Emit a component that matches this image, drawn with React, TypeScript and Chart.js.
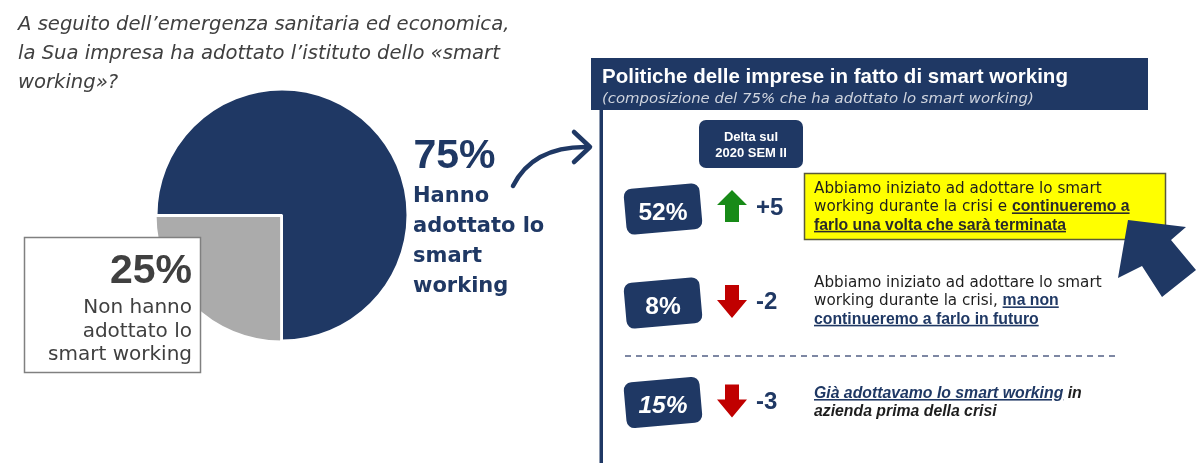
import React, { useEffect, useRef } from "react";
import { Chart, registerables } from "chart.js";

Chart.register(...registerables);

// ---------- data ----------
const pieLabels = ["Hanno adottato lo smart working", "Non hanno adottato lo smart working"];
const pieValues = [75, 25];

const questionLines = [
  "A seguito dell’emergenza sanitaria ed economica,",
  "la Sua impresa ha adottato l’istituto dello «smart",
  "working»?",
];
const adoptedLines = ["Hanno", "adottato lo", "smart", "working"];
const notAdoptedLines = ["Non hanno", "adottato lo", "smart working"];

const panelTitle = "Politiche delle imprese in fatto di smart working";
const panelSubtitle = "(composizione del 75% che ha adottato lo smart working)";
const deltaHeader = ["Delta sul", "2020 SEM II"];

const policyShares = [52, 8, 15];
const policyDeltas = [5, -2, -3];

type Run = { t: string; b?: boolean; u?: boolean; navy?: boolean };
const policyTexts: Run[][][] = [
  [
    [{ t: "Abbiamo iniziato ad adottare lo smart" }],
    [{ t: "working durante la crisi e " }, { t: "continueremo a", b: true, u: true }],
    [{ t: "farlo una volta che sarà terminata", b: true, u: true }],
  ],
  [
    [{ t: "Abbiamo iniziato ad adottare lo smart" }],
    [{ t: "working durante la crisi, " }, { t: "ma non", b: true, u: true, navy: true }],
    [{ t: "continueremo a farlo in futuro", b: true, u: true, navy: true }],
  ],
  [
    [{ t: "Già adottavamo lo smart working", b: true, u: true, navy: true }, { t: " in", b: true }],
    [{ t: "azienda prima della crisi", b: true }],
  ],
];

// ---------- styles ----------
const NAVY = "#1f3864";
const GRAY_SLICE = "#ababab";
const TEXT_GRAY = "#404040";
const REG = "'DejaVu Sans', sans-serif";
const ARIAL = "'Liberation Sans', Arial, sans-serif";

// layout (not data)
const rowCenters = [209, 303, 402.5];
const rowTextTop = [193, 287, 398];
const rowLine = 18.4;

function UpArrow({ x, y, color }: { x: number; y: number; color: string }) {
  // x,y: top-left of a 30x32 box
  const pts = [
    [x + 15, y],
    [x + 30, y + 15],
    [x + 22, y + 15],
    [x + 22, y + 32],
    [x + 8, y + 32],
    [x + 8, y + 15],
    [x, y + 15],
  ];
  return <polygon points={pts.map((p) => p.join(",")).join(" ")} fill={color} />;
}
function DownArrow({ x, y, color }: { x: number; y: number; color: string }) {
  const pts = [
    [x + 8, y],
    [x + 22, y],
    [x + 22, y + 15],
    [x + 30, y + 15],
    [x + 15, y + 33],
    [x, y + 15],
    [x + 8, y + 15],
  ];
  return <polygon points={pts.map((p) => p.join(",")).join(" ")} fill={color} />;
}

export default function App() {
  const canvasRef = useRef<HTMLCanvasElement>(null);

  useEffect(() => {
    const chart = new Chart(canvasRef.current!, {
      type: "pie",
      data: {
        labels: pieLabels,
        datasets: [
          {
            data: pieValues,
            backgroundColor: [NAVY, GRAY_SLICE],
            borderColor: "#ffffff",
            borderWidth: 2,
            offset: [0, 5],
          },
        ],
      },
      options: {
        responsive: false,
        animation: false,
        rotation: -90,
        events: [],
        layout: { padding: 0 },
        plugins: { legend: { display: false }, tooltip: { enabled: false } },
      },
    });
    return () => chart.destroy();
  }, []);

  return (
    <div
      style={{
        position: "absolute",
        left: 0,
        top: 0,
        width: 1200,
        height: 463,
        background: "#fff",
        overflow: "hidden",
      }}
    >
      <canvas
        ref={canvasRef}
        width={258}
        height={258}
        style={{ position: "absolute", left: 153, top: 86, width: 258, height: 258 }}
      />
      <svg
        width={1200}
        height={463}
        style={{ position: "absolute", left: 0, top: 0, whiteSpace: "pre" }}
      >
        {/* question */}
        <text fontFamily={REG} fontStyle="italic" fontSize={19.6} fill={TEXT_GRAY}>
          {questionLines.map((l, i) => (
            <tspan key={i} x={18} y={30 + 29 * i}>
              {l}
            </tspan>
          ))}
        </text>

        {/* 25% box */}
        <rect x={24.5} y={237.5} width={176} height={135} fill="#fff" stroke="#808080" strokeWidth={1.5} />
        <text x={192} y={283} textAnchor="end" fontFamily={ARIAL} fontWeight="bold" fontSize={41} fill={TEXT_GRAY}>
          {pieValues[1]}%
        </text>
        <text fontFamily={REG} fontSize={20} fill={TEXT_GRAY} textAnchor="end">
          {notAdoptedLines.map((l, i) => (
            <tspan key={i} x={192} y={313 + 23.5 * i}>
              {l}
            </tspan>
          ))}
        </text>

        {/* 75% label */}
        <text x={413.5} y={168} fontFamily={ARIAL} fontWeight="bold" fontSize={41} fill={NAVY}>
          {pieValues[0]}%
        </text>
        <text fontFamily={REG} fontWeight="bold" fontSize={21} fill={NAVY}>
          {adoptedLines.map((l, i) => (
            <tspan key={i} x={413} y={202 + 30 * i}>
              {l}
            </tspan>
          ))}
        </text>

        {/* curved arrow */}
        <path d="M513,186 Q533,146 588,147" fill="none" stroke={NAVY} strokeWidth={4.5} strokeLinecap="round" />
        <polyline
          points="574,132 590,147 574,162"
          fill="none"
          stroke={NAVY}
          strokeWidth={4.5}
          strokeLinecap="round"
          strokeLinejoin="round"
        />

        {/* header */}
        <rect x={591} y={58} width={557} height={52} fill={NAVY} />
        <text x={602} y={83} fontFamily={ARIAL} fontWeight="bold" fontSize={20.5} fill="#ffffff">
          {panelTitle}
        </text>
        <text x={602} y={103} fontFamily={REG} fontStyle="italic" fontSize={14.9} fill="#cfd4de">
          {panelSubtitle}
        </text>

        {/* vertical line */}
        <rect x={599.5} y={110} width={3.5} height={353} fill={NAVY} />

        {/* delta header */}
        <rect x={699} y={120} width={104} height={48} rx={7} fill={NAVY} />
        <text fontFamily={ARIAL} fontWeight="bold" fontSize={13} fill="#fff" textAnchor="middle">
          {deltaHeader.map((l, i) => (
            <tspan key={i} x={751} y={140.5 + 16 * i}>
              {l}
            </tspan>
          ))}
        </text>

        {/* yellow highlight */}
        <rect x={804.5} y={173.5} width={361} height={66} fill="#ffff00" stroke="#5a5a3a" strokeWidth={1.5} />

        {/* dashed separator */}
        <line x1={625} y1={356} x2={1120} y2={356} stroke="#7d87a3" strokeWidth={2} strokeDasharray="6 5" />

        {/* rows */}
        {policyShares.map((v, i) => {
          const cy = rowCenters[i];
          const d = policyDeltas[i];
          return (
            <g key={i}>
              <rect
                x={663 - 38}
                y={cy - 23}
                width={76}
                height={46}
                rx={8}
                fill={NAVY}
                transform={`rotate(-5 663 ${cy})`}
              />
              <text
                x={663}
                y={cy + 10.5}
                textAnchor="middle"
                fontFamily={ARIAL}
                fontWeight="bold"
                fontStyle={i === 2 ? "italic" : "normal"}
                fontSize={24.5}
                fill="#fff"
              >
                {v}%
              </text>
              {d > 0 ? (
                <UpArrow x={717} y={cy - 19} color="#178a17" />
              ) : (
                <DownArrow x={717} y={cy - 18} color="#c00000" />
              )}
              <text x={756} y={cy + 6} fontFamily={ARIAL} fontWeight="bold" fontSize={24} fill={NAVY}>
                {d > 0 ? `+${d}` : `${d}`}
              </text>
              <text
                fontFamily={REG}
                fontSize={15.2}
                fill="#1e1e1e"
                fontStyle={i === 2 ? "italic" : "normal"}
              >
                {policyTexts[i].map((line, li) =>
                  line.map((r, ri) => (
                    <tspan
                      key={li + "-" + ri}
                      x={ri === 0 ? 814 : undefined}
                      y={ri === 0 ? rowTextTop[i] + rowLine * li : undefined}
                      fontFamily={r.b ? ARIAL : REG}
                      fontWeight={r.b ? "bold" : "normal"}
                      fontSize={r.b ? 15.8 : 15.2}
                      fill={r.navy ? NAVY : i === 0 && r.b ? "#2a2a2a" : "#1e1e1e"}
                      style={r.u ? { textDecoration: "underline" } : undefined}
                    >
                      {r.t}
                    </tspan>
                  ))
                )}
              </text>
            </g>
          );
        })}

        {/* pointer arrow */}
        <polygon points="1128,220 1186,227 1171,240 1196,270 1162,297 1142,266 1118,278" fill={NAVY} />
      </svg>
    </div>
  );
}
